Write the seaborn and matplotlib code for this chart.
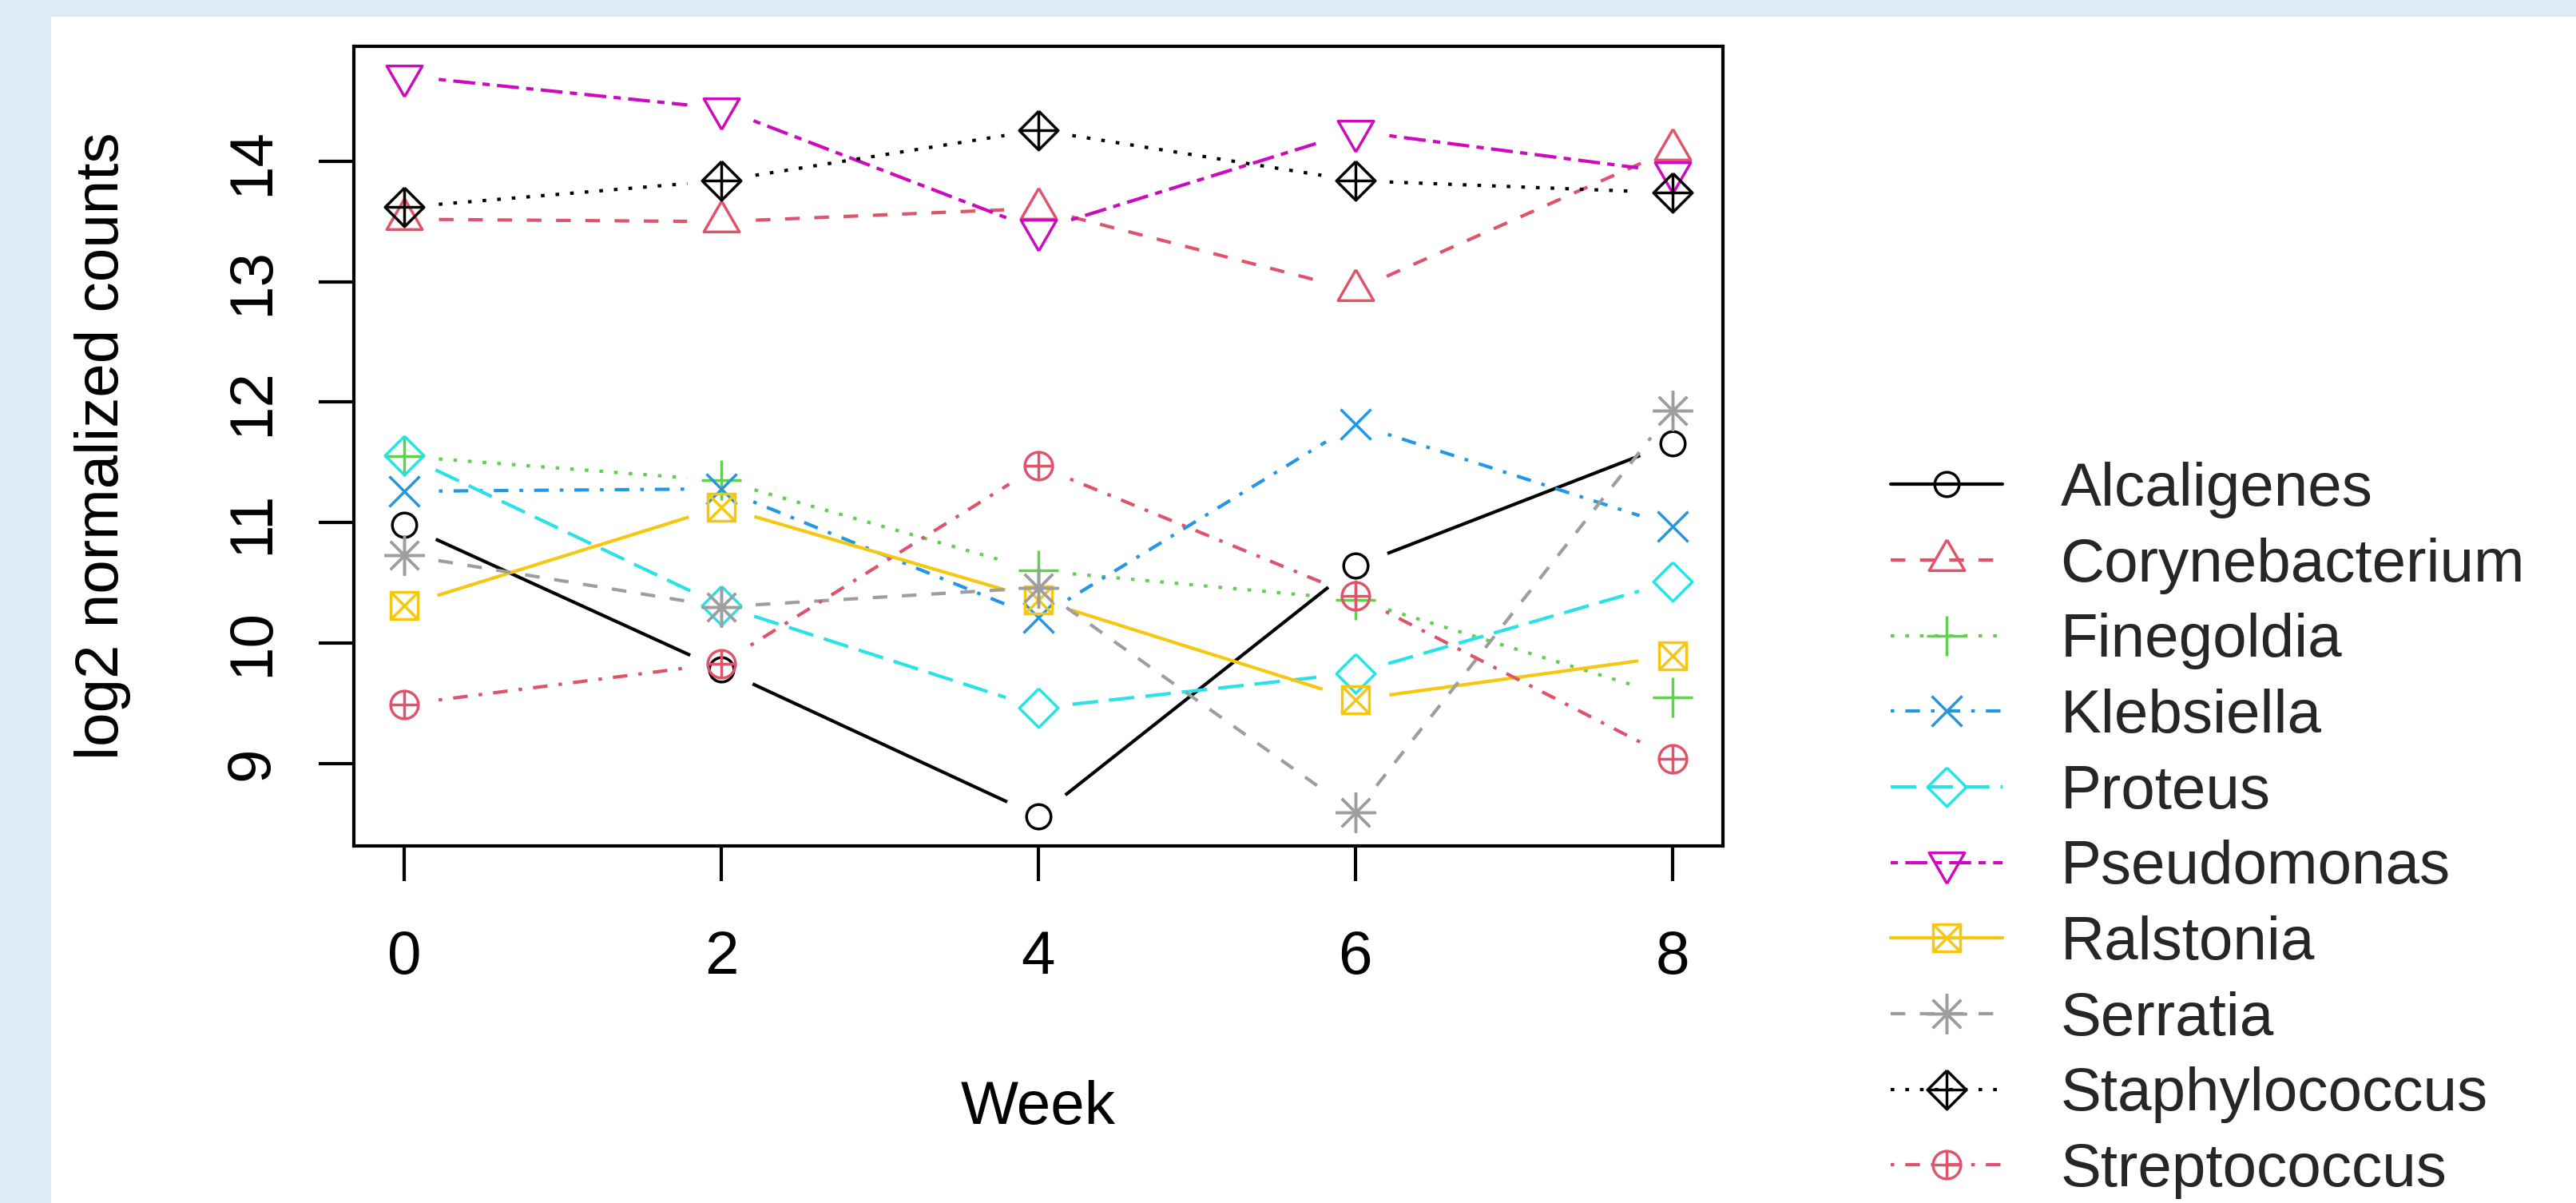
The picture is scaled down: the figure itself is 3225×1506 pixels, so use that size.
import numpy as np
import pandas as pd
import matplotlib
matplotlib.use("Agg")
import matplotlib.pyplot as plt
from matplotlib.lines import Line2D
from matplotlib.patches import Rectangle
import seaborn as sns

# data (log2 normalized counts per week)
weeks = [0, 2, 4, 6, 8]
species = ["Alcaligenes", "Corynebacterium", "Finegoldia", "Klebsiella", "Proteus",
           "Pseudomonas", "Ralstonia", "Serratia", "Staphylococcus", "Streptococcus"]
alcaligenes = [10.98, 9.78, 8.56, 10.64, 11.66]
corynebacterium = [13.52, 13.50, 13.61, 12.93, 14.10]
finegoldia = [11.55, 11.35, 10.60, 10.36, 9.55]
klebsiella = [11.26, 11.28, 10.21, 11.82, 10.97]
proteus = [11.56, 10.31, 9.46, 9.75, 10.51]
pseudomonas = [14.71, 14.44, 13.43, 14.25, 13.91]
ralstonia = [10.31, 11.13, 10.36, 9.53, 9.89]
serratia = [10.73, 10.30, 10.46, 8.59, 11.93]
staphylococcus = [13.62, 13.84, 14.26, 13.84, 13.74]
streptococcus = [9.49, 9.83, 11.47, 10.39, 9.04]
values = [alcaligenes, corynebacterium, finegoldia, klebsiella, proteus,
          pseudomonas, ralstonia, serratia, staphylococcus, streptococcus]
x_ticks = [0, 2, 4, 6, 8]
y_ticks = [9, 10, 11, 12, 13, 14]

df = pd.DataFrame(np.array(values).T, columns=species)
df["Week"] = weeks
long = df.melt(id_vars="Week", var_name="taxon", value_name="count")

# R default palette / line types / symbols (pch 1:10)
colors = ["#000000", "#DF536B", "#61D04F", "#2297E6", "#28E2E5",
          "#CD0BBC", "#F5C710", "#9E9E9E", "#000000", "#DF536B"]
u = 1.1
lty = {
    "solid": None,
    "dashed": (4 * u, 4 * u),
    "dotted": (1 * u, 3 * u),
    "dotdash": (1 * u, 3 * u, 4 * u, 3 * u),
    "longdash": (7 * u, 3 * u),
    "twodash": (2 * u, 2 * u, 6 * u, 2 * u),
}
ltys = ["solid", "dashed", "dotted", "dotdash", "longdash", "twodash",
        "solid", "dashed", "dotted", "dotdash"]

tri_up = [(0, 1.555), (1.3468, -0.7776), (-1.3468, -0.7776), (0, 1.555)]
tri_dn = [(0, -1.555), (1.3468, 0.7776), (-1.3468, 0.7776), (0, -1.555)]
diamond = [(0, 1), (1, 0), (0, -1), (-1, 0), (0, 1)]
symbols = [
    [("o", 22)],
    [(tri_up, 37)],
    [("+", 36)],
    [("x", 27)],
    [(diamond, 35)],
    [(tri_dn, 37)],
    [("s", 25), ("x", 25)],
    [((8, 2, 0), 36)],
    [(diamond, 35), ("+", 35)],
    [("o", 25), ("+", 25)],
]

W, H = 3225, 1506
sns.set_theme(style="white")
plt.rcParams["font.family"] = ["Liberation Sans", "DejaVu Sans"]
FS = 55
LW = 3.0
MEW = 2.5

fig = plt.figure(figsize=(W / 100, H / 100), dpi=100, facecolor="#DEEAF6")
fig.add_artist(Rectangle((64 / W, 0), 1, 1 - 21 / H, transform=fig.transFigure,
                         facecolor="white", edgecolor="none", zorder=-10))
ax = fig.add_axes([443 / W, 1 - 1059 / H, 1714 / W, 1001 / H])
ax.set_facecolor("white")

ymin, ymax = long["count"].min(), long["count"].max()
pad = 0.04 * (ymax - ymin)
ax.set_xlim(-0.32, 8.32)
ax.set_ylim(ymin - pad, ymax + pad)

gap = 43  # px, like R type = "b"
for i, name in enumerate(species):
    sub = long[long["taxon"] == name]
    pts = ax.transData.transform(np.column_stack([sub["Week"], sub["count"]]))
    rows = []
    for k in range(len(pts) - 1):
        a, b = pts[k], pts[k + 1]
        d = b - a
        n = np.hypot(*d)
        if n <= 2 * gap:
            continue
        d = d / n
        seg = ax.transData.inverted().transform(np.vstack([a + gap * d, b - gap * d]))
        for p in seg:
            rows.append({"x": p[0], "y": p[1], "seg": k})
    seg_df = pd.DataFrame(rows)
    kws = dict(color=colors[i], linewidth=LW, solid_capstyle="butt")
    if lty[ltys[i]] is not None:
        kws["dashes"] = lty[ltys[i]]
    sns.lineplot(data=seg_df, x="x", y="y", units="seg", estimator=None,
                 sort=False, ax=ax, legend=False, **kws)
    for m, ms in symbols[i]:
        ax.plot(sub["Week"], sub["count"], linestyle="none", marker=m, ms=ms,
                mfc="none", mec=colors[i], mew=MEW)

ax.set_xticks(x_ticks)
ax.set_yticks(y_ticks)
ax.set_xticklabels([str(t) for t in x_ticks])
ax.set_yticklabels([str(t) for t in y_ticks], rotation=90, va="center")
ax.tick_params(axis="both", direction="out", length=31.7, width=LW,
               color="black", labelsize=FS, labelcolor="black", pad=34)
ax.tick_params(axis="x", pad=44)
ax.tick_params(left=True, bottom=True)
for sp in ax.spines.values():
    sp.set_visible(True)
    sp.set_color("black")
    sp.set_linewidth(LW)

ax.set_xlabel("Week", fontsize=FS, color="black")
ax.xaxis.set_label_coords(0.5, (1059 - 1387) / 1001)
ax.xaxis.label.set_va("center")
ax.set_ylabel("log2 normalized counts", fontsize=FS, color="black")
ax.yaxis.set_label_coords((129 - 443) / 1714, 0.5)
ax.yaxis.label.set_va("center")

handles = []
for i, name in enumerate(species):
    parts = []
    ln = Line2D([], [], color=colors[i], linewidth=LW)
    if lty[ltys[i]] is not None:
        ln.set_dashes(lty[ltys[i]])
    parts.append(ln)
    for m, ms in symbols[i]:
        parts.append(Line2D([], [], linestyle="none", marker=m, ms=ms,
                            mfc="none", mec=colors[i], mew=MEW))
    handles.append(tuple(parts))

fig.legend(handles, species, loc="upper left",
           bbox_to_anchor=(2367 / W, 1 - 578 / H), frameon=False,
           fontsize=FS, handlelength=1.83, handletextpad=0.95,
           labelspacing=0.31, borderpad=0, borderaxespad=0, numpoints=1)

fig.savefig("out.png", dpi=100, facecolor=fig.get_facecolor())
